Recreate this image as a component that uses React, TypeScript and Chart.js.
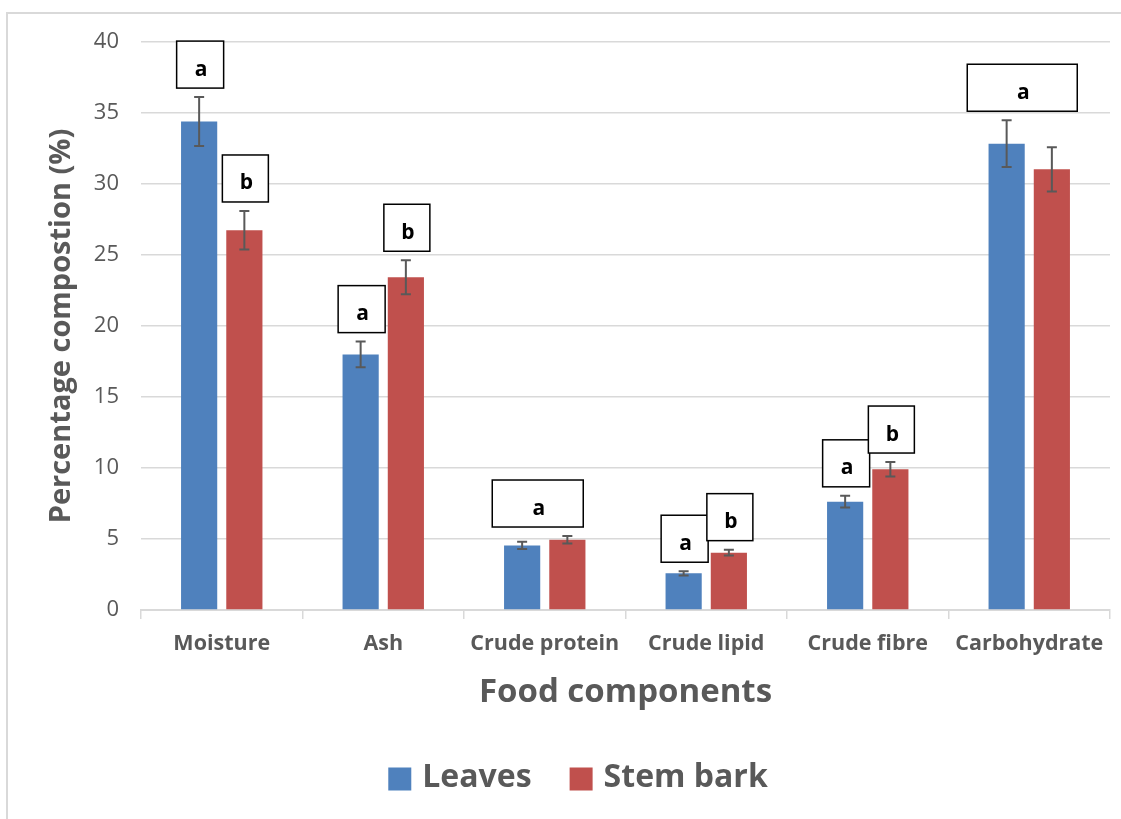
import { useEffect, useRef } from "react";
import { Chart, registerables } from "chart.js";

Chart.register(...registerables);

// ---- data ----
const categories = ["Moisture", "Ash", "Crude protein", "Crude lipid", "Crude fibre", "Carbohydrate"];
const leaves = [34.4, 18.0, 4.55, 2.58, 7.63, 32.84];
const leavesErr = [1.72, 0.9, 0.26, 0.15, 0.41, 1.65];
const stemBark = [26.74, 23.43, 4.95, 4.04, 9.91, 31.03];
const stemBarkErr = [1.36, 1.2, 0.26, 0.21, 0.51, 1.56];
const seriesNames = ["Leaves", "Stem bark"];
// significance letters: over leaves bar, over stem bark bar, or one shared box over both
const leavesLetters = ["a", "a", "", "a", "a", ""];
const stemLetters = ["b", "b", "", "b", "b", ""];
const sharedLetters = ["", "", "a", "", "", "a"];
const yMin = 0;
const yMax = 40;
const yStep = 5;

// ---- styles ----
const BLUE = "#4F81BD";
const RED = "#C0504D";
const GRID = "#d9d9d9";
const TEXT = "#595959";
const FONT = "'Open Sans', 'DejaVu Sans', sans-serif";

const errorBarsPlugin = {
  id: "errorBars",
  afterDatasetsDraw(chart: any) {
    const ctx = chart.ctx;
    const yScale = chart.scales.y;
    const errs = [leavesErr, stemBarkErr];
    ctx.save();
    ctx.strokeStyle = "#595959";
    ctx.lineWidth = 2;
    chart.data.datasets.forEach((ds: any, di: number) => {
      const meta = chart.getDatasetMeta(di);
      meta.data.forEach((bar: any, i: number) => {
        const v = ds.data[i];
        const e = errs[di][i];
        const yTop = yScale.getPixelForValue(v + e);
        const yBot = yScale.getPixelForValue(v - e);
        const x = bar.x;
        ctx.beginPath();
        ctx.moveTo(x, yTop);
        ctx.lineTo(x, yBot);
        ctx.moveTo(x - 5, yTop);
        ctx.lineTo(x + 5, yTop);
        ctx.moveTo(x - 5, yBot);
        ctx.lineTo(x + 5, yBot);
        ctx.stroke();
      });
    });
    ctx.restore();
  },
};

const letterBoxPlugin = {
  id: "letterBoxes",
  afterDatasetsDraw(chart: any) {
    const ctx = chart.ctx;
    const yScale = chart.scales.y;
    const m0 = chart.getDatasetMeta(0);
    const m1 = chart.getDatasetMeta(1);
    const gap = 9;
    const h = 47;
    const drawBox = (cx: number, bottom: number, w: number, letter: string) => {
      const top = bottom - h;
      ctx.save();
      ctx.fillStyle = "#ffffff";
      ctx.fillRect(cx - w / 2, top, w, h);
      ctx.strokeStyle = "#000000";
      ctx.lineWidth = 1.5;
      ctx.strokeRect(cx - w / 2, top, w, h);
      ctx.fillStyle = "#000000";
      ctx.font = `bold 21px ${FONT}`;
      ctx.textAlign = "center";
      ctx.textBaseline = "alphabetic";
      ctx.fillText(letter, cx + 1, top + h / 2 + 11);
      ctx.restore();
    };
    categories.forEach((_, i) => {
      const b0 = m0.data[i];
      const b1 = m1.data[i];
      const top0 = yScale.getPixelForValue(leaves[i] + leavesErr[i]);
      const top1 = yScale.getPixelForValue(stemBark[i] + stemBarkErr[i]);
      if (leavesLetters[i]) drawBox(b0.x + 1, top0 - gap, 47, leavesLetters[i]);
      if (stemLetters[i]) drawBox(b1.x + 1, top1 - gap, 46, stemLetters[i]);
      if (sharedLetters[i]) {
        const w = i === categories.length - 1 ? 110 : 91;
        drawBox((b0.x + b1.x) / 2 - 7, Math.min(top0, top1) - gap, w, sharedLetters[i]);
      }
    });
  },
};

const frameLegendPlugin = {
  id: "frameLegend",
  beforeDraw(chart: any) {
    const ctx = chart.ctx;
    ctx.save();
    ctx.fillStyle = "#ffffff";
    ctx.fillRect(0, 0, chart.width, chart.height);
    ctx.strokeStyle = GRID;
    ctx.lineWidth = 2;
    ctx.strokeRect(7, 13, chart.width + 50, chart.height + 50);
    ctx.restore();
  },
  afterDraw(chart: any) {
    const ctx = chart.ctx;
    ctx.save();
    ctx.font = `bold 32px ${FONT}`;
    ctx.textBaseline = "middle";
    ctx.textAlign = "left";
    const box = 23;
    const boxGap = 11;
    const itemGap = 38;
    const items = chart.data.datasets.map((ds: any) => ({
      label: ds.label,
      color: ds.backgroundColor,
      w: box + boxGap + ctx.measureText(ds.label).width,
    }));
    const total = items.reduce((s: number, it: any) => s + it.w, 0) + itemGap * (items.length - 1);
    let x = 578 - total / 2;
    const cy = 779;
    items.forEach((it: any) => {
      ctx.fillStyle = it.color;
      ctx.fillRect(x, cy - box / 2, box, box);
      ctx.fillStyle = TEXT;
      ctx.fillText(it.label, x + box + boxGap, cy - 1);
      x += it.w + itemGap;
    });
    ctx.restore();
  },
};

export default function App() {
  const canvasRef = useRef<HTMLCanvasElement | null>(null);

  useEffect(() => {
    if (!canvasRef.current) return;
    const chart = new Chart(canvasRef.current, {
      type: "bar",
      data: {
        labels: categories,
        datasets: [
          {
            label: seriesNames[0],
            data: leaves,
            backgroundColor: BLUE,
            categoryPercentage: 0.56,
            barPercentage: 0.8,
          },
          {
            label: seriesNames[1],
            data: stemBark,
            backgroundColor: RED,
            categoryPercentage: 0.56,
            barPercentage: 0.8,
          },
        ],
      },
      options: {
        responsive: false,
        animation: false,
        devicePixelRatio: 1,
        layout: { padding: { top: 42, left: 0, right: 11, bottom: 89 } },
        plugins: {
          legend: { display: false },
          tooltip: { enabled: false },
        },
        scales: {
          x: {
            grid: {
              drawOnChartArea: false,
              drawTicks: true,
              tickLength: 9,
              color: GRID,
              lineWidth: 1.5,
            },
            border: { color: GRID, width: 2 },
            ticks: {
              color: TEXT,
              font: { family: FONT, size: 21.5, weight: "bold" },
              padding: 12,
              maxRotation: 0,
              autoSkip: false,
            },
            title: {
              display: true,
              text: "Food components",
              color: TEXT,
              font: { family: FONT, size: 33, weight: "bold" },
              padding: { top: 0, bottom: 18 },
            },
            afterFit(scale: any) {
              scale.height = 120;
            },
          },
          y: {
            min: yMin,
            max: yMax,
            ticks: {
              stepSize: yStep,
              color: TEXT,
              font: { family: FONT, size: 22 },
              padding: 22,
            },
            grid: { color: GRID, lineWidth: 1.5, drawTicks: false },
            border: { display: false },
            title: {
              display: true,
              text: "Percentage compostion (%)",
              color: TEXT,
              font: { family: FONT, size: 29, weight: "bold" },
              padding: { top: 44, bottom: 0 },
            },
            afterFit(scale: any) {
              scale.width = 141;
            },
          },
        },
      },
      plugins: [frameLegendPlugin, errorBarsPlugin, letterBoxPlugin],
    } as any);
    return () => chart.destroy();
  }, []);

  return (
    <div style={{ position: "fixed", left: 0, top: 0, width: 1121, height: 819, background: "#fff" }}>
      <canvas ref={canvasRef} width={1121} height={819} style={{ width: 1121, height: 819, display: "block" }} />
    </div>
  );
}
